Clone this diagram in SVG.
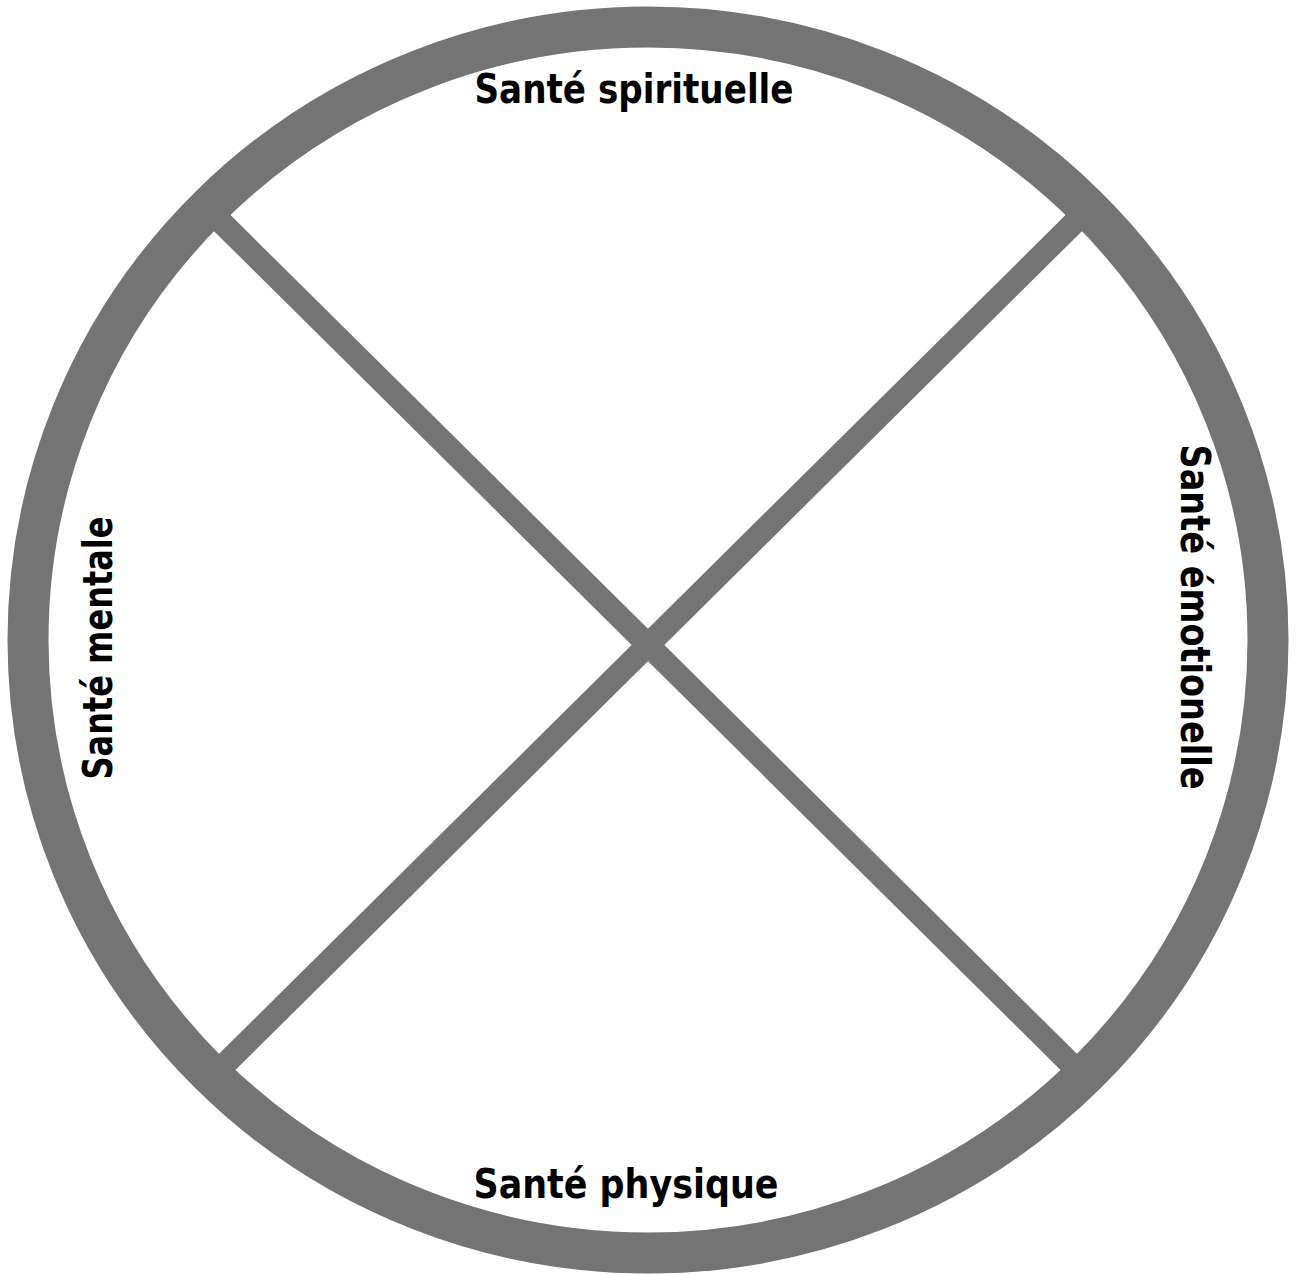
<svg xmlns="http://www.w3.org/2000/svg" width="1299" height="1274" viewBox="0 0 1299 1274">
  <style>
    .ring { fill: none; stroke: #747474; stroke-width: 41; }
    .spoke { stroke: #747474; stroke-width: 23; stroke-linecap: butt; }
    .label { font-family: "DejaVu Sans", "Liberation Sans", sans-serif; font-weight: bold; font-size: 40px; fill: #000; text-anchor: middle; }
  </style>
  <rect width="1299" height="1274" fill="#fff"/>
  <g id="connectors">
    <line class="spoke" x1="207" y1="208" x2="1084" y2="1077"/>
    <line class="spoke" x1="1089" y1="208" x2="212" y2="1077"/>
  </g>
  <g id="ring">
    <ellipse class="ring" cx="648" cy="640" rx="620" ry="613"/>
  </g>
  <g id="node-spirituelle">
    <text class="label" x="634" y="103" textLength="319" lengthAdjust="spacingAndGlyphs">Santé spirituelle</text>
  </g>
  <g id="node-physique">
    <text class="label" x="626" y="1198" textLength="305" lengthAdjust="spacingAndGlyphs">Santé physique</text>
  </g>
  <g id="node-mentale">
    <text class="label" transform="translate(112,648) rotate(-90)" x="0" y="0" textLength="263" lengthAdjust="spacingAndGlyphs">Santé mentale</text>
  </g>
  <g id="node-emotionelle">
    <text class="label" transform="translate(1181,617) rotate(90)" x="0" y="0" textLength="345" lengthAdjust="spacingAndGlyphs">Santé émotionelle</text>
  </g>
</svg>
